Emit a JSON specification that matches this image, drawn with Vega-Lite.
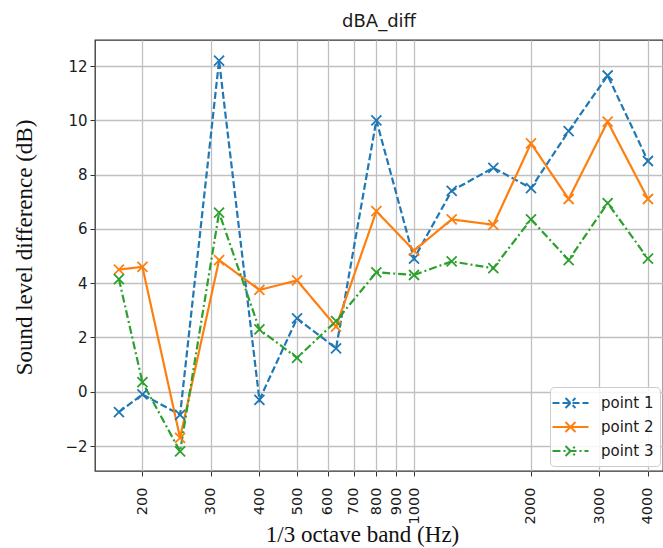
{
  "$schema": "https://vega.github.io/schema/vega-lite/v6.json",
  "autosize": {"type": "none"},
  "padding": {"left": 95, "top": 40, "right": 0, "bottom": 77},
  "width": 568,
  "height": 431,
  "title": {"text": "dBA_diff", "font": "DejaVu Sans", "fontSize": 18, "fontWeight": "normal", "color": "#1a1a1a", "offset": 9},
  "data": {"values": [
    {"f": 174, "v": -0.75, "s": "point 1"},
    {"f": 200, "v": -0.1, "s": "point 1"},
    {"f": 250, "v": -0.85, "s": "point 1"},
    {"f": 315, "v": 12.2, "s": "point 1"},
    {"f": 400, "v": -0.3, "s": "point 1"},
    {"f": 500, "v": 2.7, "s": "point 1"},
    {"f": 630, "v": 1.6, "s": "point 1"},
    {"f": 800, "v": 10.0, "s": "point 1"},
    {"f": 1000, "v": 4.9, "s": "point 1"},
    {"f": 1250, "v": 7.4, "s": "point 1"},
    {"f": 1600, "v": 8.25, "s": "point 1"},
    {"f": 2000, "v": 7.5, "s": "point 1"},
    {"f": 2500, "v": 9.6, "s": "point 1"},
    {"f": 3150, "v": 11.65, "s": "point 1"},
    {"f": 4000, "v": 8.5, "s": "point 1"},
    {"f": 174, "v": 4.5, "s": "point 2"},
    {"f": 200, "v": 4.6, "s": "point 2"},
    {"f": 250, "v": -1.7, "s": "point 2"},
    {"f": 315, "v": 4.85, "s": "point 2"},
    {"f": 400, "v": 3.75, "s": "point 2"},
    {"f": 500, "v": 4.1, "s": "point 2"},
    {"f": 630, "v": 2.4, "s": "point 2"},
    {"f": 800, "v": 6.65, "s": "point 2"},
    {"f": 1000, "v": 5.2, "s": "point 2"},
    {"f": 1250, "v": 6.35, "s": "point 2"},
    {"f": 1600, "v": 6.15, "s": "point 2"},
    {"f": 2000, "v": 9.15, "s": "point 2"},
    {"f": 2500, "v": 7.1, "s": "point 2"},
    {"f": 3150, "v": 9.95, "s": "point 2"},
    {"f": 4000, "v": 7.1, "s": "point 2"},
    {"f": 174, "v": 4.15, "s": "point 3"},
    {"f": 200, "v": 0.35, "s": "point 3"},
    {"f": 250, "v": -2.2, "s": "point 3"},
    {"f": 315, "v": 6.6, "s": "point 3"},
    {"f": 400, "v": 2.3, "s": "point 3"},
    {"f": 500, "v": 1.25, "s": "point 3"},
    {"f": 630, "v": 2.6, "s": "point 3"},
    {"f": 800, "v": 4.4, "s": "point 3"},
    {"f": 1000, "v": 4.3, "s": "point 3"},
    {"f": 1250, "v": 4.8, "s": "point 3"},
    {"f": 1600, "v": 4.55, "s": "point 3"},
    {"f": 2000, "v": 6.35, "s": "point 3"},
    {"f": 2500, "v": 4.85, "s": "point 3"},
    {"f": 3150, "v": 6.95, "s": "point 3"},
    {"f": 4000, "v": 4.9, "s": "point 3"}
  ]},
  "encoding": {
    "x": {
      "field": "f", "type": "quantitative",
      "scale": {"type": "log", "domain": [151, 4373], "nice": false},
      "axis": {
        "values": [200, 300, 400, 500, 600, 700, 800, 900, 1000, 2000, 3000, 4000],
        "format": "d", "labelAngle": -90, "labelPadding": 11, "labelFontSize": 14.5,
        "title": "1/3 octave band (Hz)", "titleX": 267, "titleY": 70, "titleBaseline": "alphabetic"
      }
    },
    "y": {
      "field": "v", "type": "quantitative",
      "scale": {"domain": [-2.921, 12.958], "nice": false, "zero": false},
      "axis": {
        "values": [-2, 0, 2, 4, 6, 8, 10, 12],
        "labelExpr": "replace(datum.label, '-', '−')",
        "labelPadding": 3, "labelFontSize": 15,
        "title": "Sound level difference (dB)", "titleX": -64, "titleY": 207, "titleBaseline": "alphabetic", "titleAngle": -90
      }
    },
    "color": {
      "field": "s", "type": "nominal",
      "scale": {"domain": ["point 1", "point 2", "point 3"], "range": ["#1f77b4", "#ff7f0e", "#2ca02c"]},
      "legend": {
        "title": null,
        "orient": "none", "legendX": 455, "legendY": 347,
        "symbolType": "M-1.5,0H2.5M-0.05,-0.55L1.05,0.55M-0.05,0.55L1.05,-0.55",
        "symbolSize": 324, "symbolStrokeWidth": 2,
        "labelFont": "DejaVu Sans", "labelFontSize": 15, "labelColor": "#1a1a1a",
        "labelOffset": 25, "rowPadding": 5,
        "fillColor": "rgba(255,255,255,0.85)", "strokeColor": "#cccccc", "cornerRadius": 4, "padding": 6
      }
    }
  },
  "layer": [
    {
      "mark": {"type": "line", "strokeWidth": 2.2},
      "encoding": {
        "strokeDash": {
          "field": "s", "type": "nominal",
          "scale": {"domain": ["point 1", "point 2", "point 3"], "range": [[7, 3], [1, 0], [8, 3, 2, 3]]},
          "legend": {
            "title": null,
            "orient": "none", "legendX": 455, "legendY": 347,
            "symbolType": "M-1.5,0H2.5M-0.05,-0.55L1.05,0.55M-0.05,0.55L1.05,-0.55",
            "symbolSize": 324, "symbolStrokeWidth": 2,
            "labelFont": "DejaVu Sans", "labelFontSize": 15, "labelColor": "#1a1a1a",
            "labelOffset": 25, "rowPadding": 5,
            "fillColor": "rgba(255,255,255,0.85)", "strokeColor": "#cccccc", "cornerRadius": 4, "padding": 6
          }
        }
      }
    },
    {
      "mark": {"type": "point", "shape": "M-1,-1L1,1M-1,1L1,-1", "filled": false, "size": 100, "strokeWidth": 1.8, "opacity": 1}
    }
  ],
  "config": {
    "view": {"stroke": "#333333", "strokeWidth": 1.3},
    "axis": {
      "domain": false,
      "grid": true, "gridColor": "#c0c0c0", "gridWidth": 1.3, "gridOpacity": 1,
      "ticks": true, "tickColor": "#333333", "tickSize": 5, "tickWidth": 1,
      "labelFont": "DejaVu Sans", "labelColor": "#1a1a1a",
      "titleFont": "Liberation Serif", "titleFontSize": 23, "titleFontWeight": "normal", "titleColor": "#111111"
    }
  }
}
